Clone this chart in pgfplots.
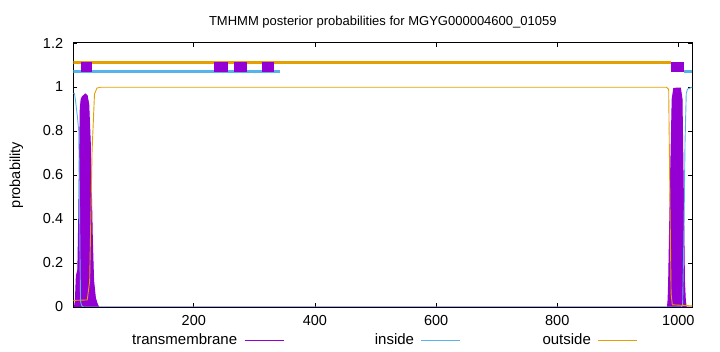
\documentclass[border=0pt]{standalone}
\usepackage{pgfplots}
\pgfplotsset{compat=1.18}
\usepackage{fontspec}
\setmainfont{Liberation Sans}
\definecolor{tmcol}{HTML}{9400D3}
\definecolor{incol}{HTML}{56B4E9}
\definecolor{outcol}{HTML}{E69F00}
\begin{document}
\begin{tikzpicture}[font=\fontsize{14.5bp}{16bp}\selectfont]
\path[use as bounding box] (-73.3bp,-45bp) rectangle (646.7bp,307bp);
\begin{axis}[
  scale only axis, width=619bp, height=264bp,
  xmin=1, xmax=1023, ymin=0, ymax=1.2,
  xtick={200,400,600,800,1000},
  ytick={0,0.2,0.4,0.6,0.8,1,1.2},
  tick align=inside, major tick length=4bp,
  tick style={black, line width=0.8bp},
  axis line style={black, line width=1bp},
  /pgf/number format/assume math mode=true,
  /pgf/number format/set thousands separator={},
  yticklabel style={anchor=east, inner sep=0pt, xshift=-10bp},
  xticklabel style={anchor=north, inner sep=0pt, yshift=-8bp},
  title={TMHMM posterior probabilities for MGYG000004600\_01059},
  title style={at={(0.5,1)}, anchor=center, yshift=15bp, font=\fontsize{13bp}{15bp}\selectfont},
  ylabel={probability},
  every axis y label/.style={at={(axis description cs:-0.0921,0.5)}, rotate=90, anchor=center},
  legend style={at={(axis description cs:0.5019,-0.125)}, anchor=center, draw=none, fill=none,
    font=\fontsize{15bp}{17bp}\selectfont,
    legend columns=3, /tikz/every even column/.append style={column sep=23bp}},
  legend plot pos=right,
  legend image code/.code={\draw[#1] (0bp,0bp) -- (39bp,0bp);},
]
% top topology lines
\addplot[outcol, line width=3.3bp, forget plot] coordinates {(1,1.11) (988,1.11)};
\addplot[incol, line width=2.6bp, forget plot] coordinates {(1,1.07) (342,1.07)};
\addplot[incol, line width=2.6bp, forget plot] coordinates {(1010,1.07) (1023,1.07)};
\addplot[tmcol, line width=10.5bp, forget plot] coordinates {(13,1.091) (32,1.091)};
\addplot[tmcol, line width=10.5bp, forget plot] coordinates {(233,1.091) (256,1.091)};
\addplot[tmcol, line width=10.5bp, forget plot] coordinates {(266,1.091) (288,1.091)};
\addplot[tmcol, line width=10.5bp, forget plot] coordinates {(312,1.091) (332,1.091)};
\addplot[tmcol, line width=10.5bp, forget plot] coordinates {(988,1.091) (1010,1.091)};
% transmembrane posterior
\addplot[draw=tmcol, fill=tmcol, line width=1bp, forget plot] table {
x y
1 0
3 0
4.5 0.03
6 0.14
8.5 0.17
10 0.4
11 0.62
12.5 0.9
14 0.945
16 0.956
21 0.968
24 0.96
26.5 0.92
29 0.75
31 0.5
32.5 0.3
34.5 0.12
37.5 0.04
41 0.01
43 0
500 0
982 0
983 0.03
984 0.12
987 0.58
989.8 0.945
992.4 0.994
1003.4 0.995
1006 0.945
1008.6 0.43
1010 0.12
1011.5 0.03
1013 0
1023 0
} \closedcycle;
% inside
\addplot[incol, line width=0.9bp, forget plot] table {
x y
1 0.97
3 0.971
5 0.93
8 0.86
10 0.80
11 0.55
12 0.25
13 0.024
15 0.005
18 0
500 0
1005 0
1007 0.01
1009 0.3
1011 0.75
1013 0.97
1015 0.99
1023 1.0
};
% outside
\addplot[outcol, line width=0.9bp, forget plot] table {
x y
1 0.03
24 0.032
28 0.116
32 0.71
36 0.968
40 0.995
46 0.999
500 0.999
980 0.999
984 0.99
986 0.5
988 0.06
990 0.01
1023 0.005
};
\addlegendimage{tmcol, line width=0.9bp}
\addlegendentry{\makebox[110bp][r]{transmembrane\hspace{5bp}}}
\addlegendimage{incol, line width=0.9bp}
\addlegendentry{\makebox[110bp][r]{inside\hspace{5bp}}}
\addlegendimage{outcol, line width=0.9bp}
\addlegendentry{\makebox[110bp][r]{outside\hspace{5bp}}}
\end{axis}
\end{tikzpicture}
\end{document}
